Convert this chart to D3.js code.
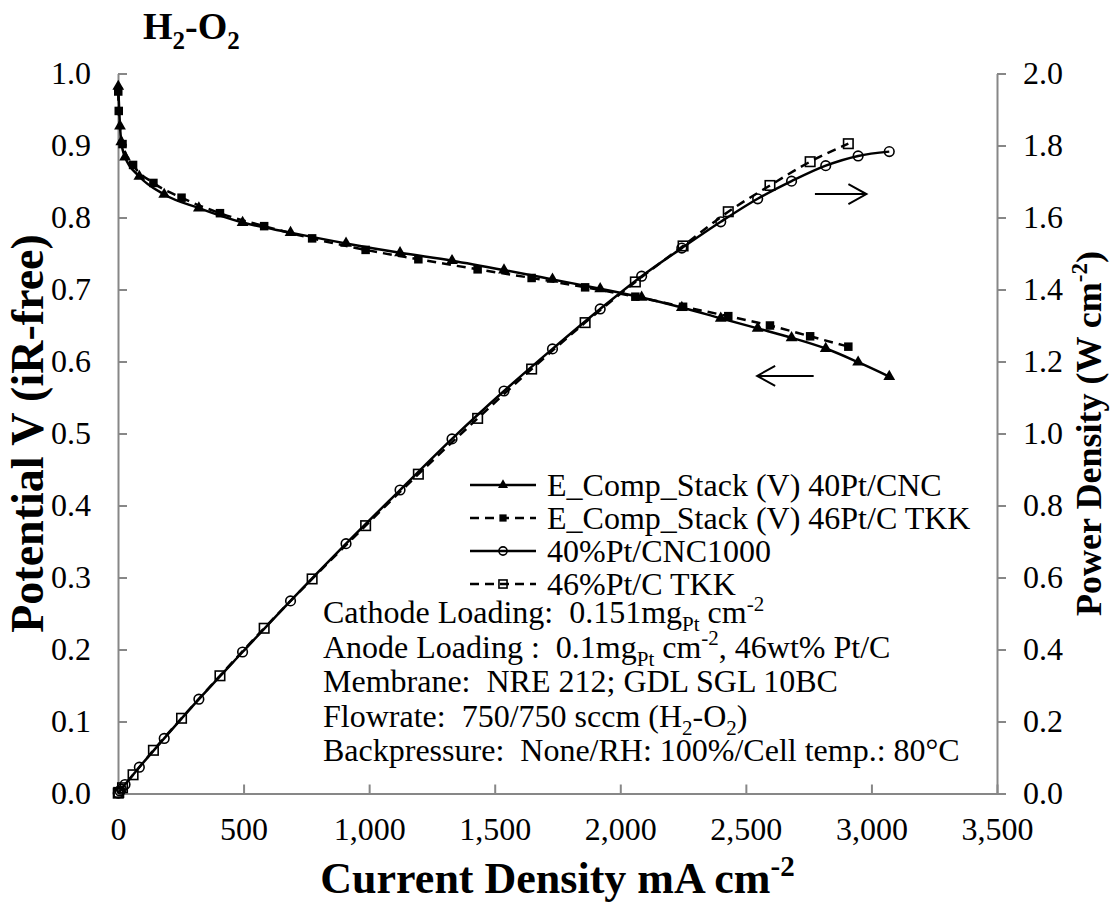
<!DOCTYPE html>
<html>
<head>
<meta charset="utf-8">
<script src="https://cdn.jsdelivr.net/npm/d3@7"></script>
<style>
  body { margin: 0; background: #fff; }
</style>
</head>
<body>
<svg id="chart" width="1114" height="911"></svg>
<script>
// Tick values
const xTicks = [0, 500, 1000, 1500, 2000, 2500, 3000, 3500];
const leftTicks = [0, 0.1, 0.2, 0.3, 0.4, 0.5, 0.6, 0.7, 0.8, 0.9, 1.0];
const rightTicks = [0, 0.2, 0.4, 0.6, 0.8, 1.0, 1.2, 1.4, 1.6, 1.8, 2.0];

// 40% Pt/CNC1000 cathode: current density (mA cm-2), iR-free potential (V), power density (W cm-2)
const cncCurrent = [1, 8, 13, 28, 85, 184, 322, 496, 687, 908, 1123, 1330, 1537, 1730, 1920, 2085, 2245, 2400, 2547, 2682, 2818, 2947, 3071];
const cncVoltage = [0.982, 0.927, 0.905, 0.884, 0.857, 0.832, 0.813, 0.793, 0.779, 0.764, 0.751, 0.740, 0.727, 0.714, 0.701, 0.689, 0.675, 0.660, 0.646, 0.633, 0.618, 0.599, 0.579];
const cncPower = [0.001, 0.007, 0.012, 0.025, 0.073, 0.153, 0.262, 0.393, 0.535, 0.694, 0.843, 0.985, 1.118, 1.235, 1.346, 1.437, 1.515, 1.588, 1.652, 1.701, 1.744, 1.771, 1.783];

// 46% Pt/C TKK cathode
const tkkCurrent = [1, 3, 18, 60, 141, 253, 406, 582, 773, 986, 1196, 1432, 1647, 1860, 2060, 2250, 2430, 2596, 2756, 2908];
const tkkVoltage = [0.975, 0.948, 0.902, 0.873, 0.848, 0.8275, 0.806, 0.788, 0.771, 0.755, 0.742, 0.728, 0.716, 0.703, 0.690, 0.676, 0.663, 0.650, 0.635, 0.6206];
const tkkPower = [0.001, 0.003, 0.016, 0.052, 0.120, 0.209, 0.327, 0.459, 0.596, 0.744, 0.887, 1.042, 1.179, 1.308, 1.421, 1.521, 1.616, 1.689, 1.755, 1.805];

const legendLabels = ["E_Comp_Stack (V) 40Pt/CNC", "E_Comp_Stack (V) 46Pt/C TKK", "40%Pt/CNC1000", "46%Pt/C TKK"];

const FONT = '"Liberation Serif"';
const svg = d3.select("#chart");
const plot = { left: 118, right: 997, top: 73.5, bottom: 793.5 };

const x = d3.scaleLinear().domain([0, 3500]).range([plot.left, plot.right]);
const yV = d3.scaleLinear().domain([0, 1.0]).range([plot.bottom, plot.top]);
const yP = d3.scaleLinear().domain([0, 2.0]).range([plot.bottom, plot.top]);

const axisColor = "#878787";
const tickFont = 32;

function txt(parent) {
  return parent.append("text").style("font-family", FONT).style("white-space", "pre").attr("fill", "#000");
}

// Axes
const gx = svg.append("g").attr("transform", `translate(0,${plot.bottom})`)
  .call(d3.axisBottom(x).tickValues(xTicks).tickSizeInner(-9).tickSizeOuter(0)
        .tickPadding(24).tickFormat(d3.format(",")));
const gl = svg.append("g").attr("transform", `translate(${plot.left},0)`)
  .call(d3.axisLeft(yV).tickValues(leftTicks).tickSizeInner(-9).tickSizeOuter(0)
        .tickPadding(27).tickFormat(d3.format(".1f")));
const gr = svg.append("g").attr("transform", `translate(${plot.right},0)`)
  .call(d3.axisRight(yP).tickValues(rightTicks).tickSizeInner(9).tickSizeOuter(0)
        .tickPadding(17).tickFormat(d3.format(".1f")));

[gx, gl, gr].forEach(g => {
  g.attr("font-family", null).attr("font-size", tickFont);
  g.select(".domain").attr("stroke", axisColor).attr("stroke-width", 2);
  g.selectAll(".tick line").attr("stroke", axisColor).attr("stroke-width", 2);
  g.selectAll(".tick text").style("font-family", FONT).attr("font-size", tickFont).attr("fill", "#000");
});
gx.selectAll(".tick line").attr("y1", 0).attr("y2", -9);
gl.selectAll(".tick line").attr("x1", 0).attr("x2", 9);

// Rich text helper: segments of {t, sub, sup}; each shifted segment is followed by a return shift
function richText(sel, segs, size) {
  sel.attr("font-size", size);
  const small = Math.round(size * 0.65);
  let carry = 0;
  segs.forEach(s => {
    const shift = s.sub ? size * 0.25 : s.sup ? -size * 0.38 : 0;
    const ts = sel.append("tspan").attr("font-size", s.sub || s.sup ? small : size).text(s.t);
    const dy = carry + shift;
    if (dy !== 0) ts.attr("dy", dy);
    carry = -shift;
  });
  return sel;
}

// Title
richText(txt(svg).attr("x", 143).attr("y", 39).attr("font-weight", "bold"),
  [{t: "H"}, {t: "2", sub: true}, {t: "-O"}, {t: "2", sub: true}], 38);

// Axis titles
richText(txt(svg).attr("x", (plot.left + plot.right) / 2).attr("y", 893)
  .attr("text-anchor", "middle").attr("font-weight", "bold"),
  [{t: "Current Density mA cm"}, {t: "-2", sup: true}], 44);

txt(svg).attr("transform", `translate(43,${(plot.top + plot.bottom) / 2}) rotate(-90)`)
  .attr("text-anchor", "middle").attr("font-weight", "bold").attr("font-size", 46)
  .text("Potential V (iR-free)");

richText(txt(svg).attr("transform", `translate(1101,${(plot.top + plot.bottom) / 2}) rotate(-90)`)
  .attr("text-anchor", "middle").attr("font-weight", "bold"),
  [{t: "Power Density (W cm"}, {t: "-2", sup: true}, {t: ")"}], 36);

// Series
const smooth = d3.curveMonotoneX;
const series = [
  { j: cncCurrent, v: cncVoltage, y: yV, dash: null, marker: "triangle" },
  { j: tkkCurrent, v: tkkVoltage, y: yV, dash: "9,6", marker: "fsquare" },
  { j: cncCurrent, v: cncPower, y: yP, dash: null, marker: "circle" },
  { j: tkkCurrent, v: tkkPower, y: yP, dash: "9,6", marker: "osquare" }
];

function drawMarker(g, type, cx, cy, scale) {
  const k = scale || 1;
  if (type === "triangle") {
    g.append("path").attr("d", d3.symbol(d3.symbolTriangle, 60 * k * k)())
      .attr("transform", `translate(${cx},${cy})`).attr("fill", "#000");
  } else if (type === "fsquare") {
    const s = 8.5 * k;
    g.append("rect").attr("x", cx - s / 2).attr("y", cy - s / 2).attr("width", s).attr("height", s).attr("fill", "#000");
  } else if (type === "circle") {
    g.append("circle").attr("cx", cx).attr("cy", cy).attr("r", 4.8 * k)
      .attr("fill", "none").attr("stroke", "#000").attr("stroke-width", 1.6);
  } else if (type === "osquare") {
    const s = 9.5 * k;
    g.append("rect").attr("x", cx - s / 2).attr("y", cy - s / 2).attr("width", s).attr("height", s)
      .attr("fill", "none").attr("stroke", "#000").attr("stroke-width", 1.6);
  }
}

series.forEach(s => {
  const pts = s.j.map((j, i) => [x(j), s.y(s.v[i])]);
  svg.append("path").attr("d", d3.line().curve(smooth)(pts))
    .attr("fill", "none").attr("stroke", "#000").attr("stroke-width", 2.5)
    .attr("stroke-dasharray", s.dash);
  const g = svg.append("g");
  pts.forEach(p => drawMarker(g, s.marker, p[0], p[1]));
});

// Direction arrows (which axis each curve belongs to)
function arrow(x1, x2, yy) {
  const dir = Math.sign(x2 - x1);
  const g = svg.append("g").attr("stroke", "#000").attr("stroke-width", 2).attr("fill", "none");
  g.append("line").attr("x1", x1).attr("x2", x2).attr("y1", yy).attr("y2", yy);
  g.append("path").attr("d", `M${x2 - dir * 18},${yy - 10} L${x2},${yy} L${x2 - dir * 18},${yy + 10}`);
}
arrow(x(2775), x(2980), yP(1.665));
arrow(x(2770), x(2545), yV(0.58));

// Legend
const legendX = 470, legendY = 485, legendStep = 33;
series.forEach((s, i) => {
  const yy = legendY + i * legendStep;
  svg.append("line").attr("x1", legendX).attr("x2", legendX + 66).attr("y1", yy).attr("y2", yy)
    .attr("stroke", "#000").attr("stroke-width", 2.5).attr("stroke-dasharray", s.dash);
  const g = svg.append("g");
  drawMarker(g, s.marker, legendX + 33, yy, 0.85);
  txt(svg).attr("x", legendX + 77).attr("y", yy + 11).attr("font-size", 32).text(legendLabels[i]);
});

// Test conditions
const notes = [
  [{t: "Cathode Loading:  0.151mg"}, {t: "Pt", sub: true}, {t: " cm"}, {t: "-2", sup: true}],
  [{t: "Anode Loading :  0.1mg"}, {t: "Pt", sub: true}, {t: " cm"}, {t: "-2", sup: true}, {t: ", 46wt% Pt/C"}],
  [{t: "Membrane:  NRE 212; GDL SGL 10BC"}],
  [{t: "Flowrate:  750/750 sccm (H"}, {t: "2", sub: true}, {t: "-O"}, {t: "2", sub: true}, {t: ")"}],
  [{t: "Backpressure:  None/RH: 100%/Cell temp.: 80\u00B0C"}]
];
notes.forEach((segs, i) => {
  richText(txt(svg).attr("x", 323).attr("y", 623 + i * 34.5), segs, 32);
});
</script>
</body>
</html>
